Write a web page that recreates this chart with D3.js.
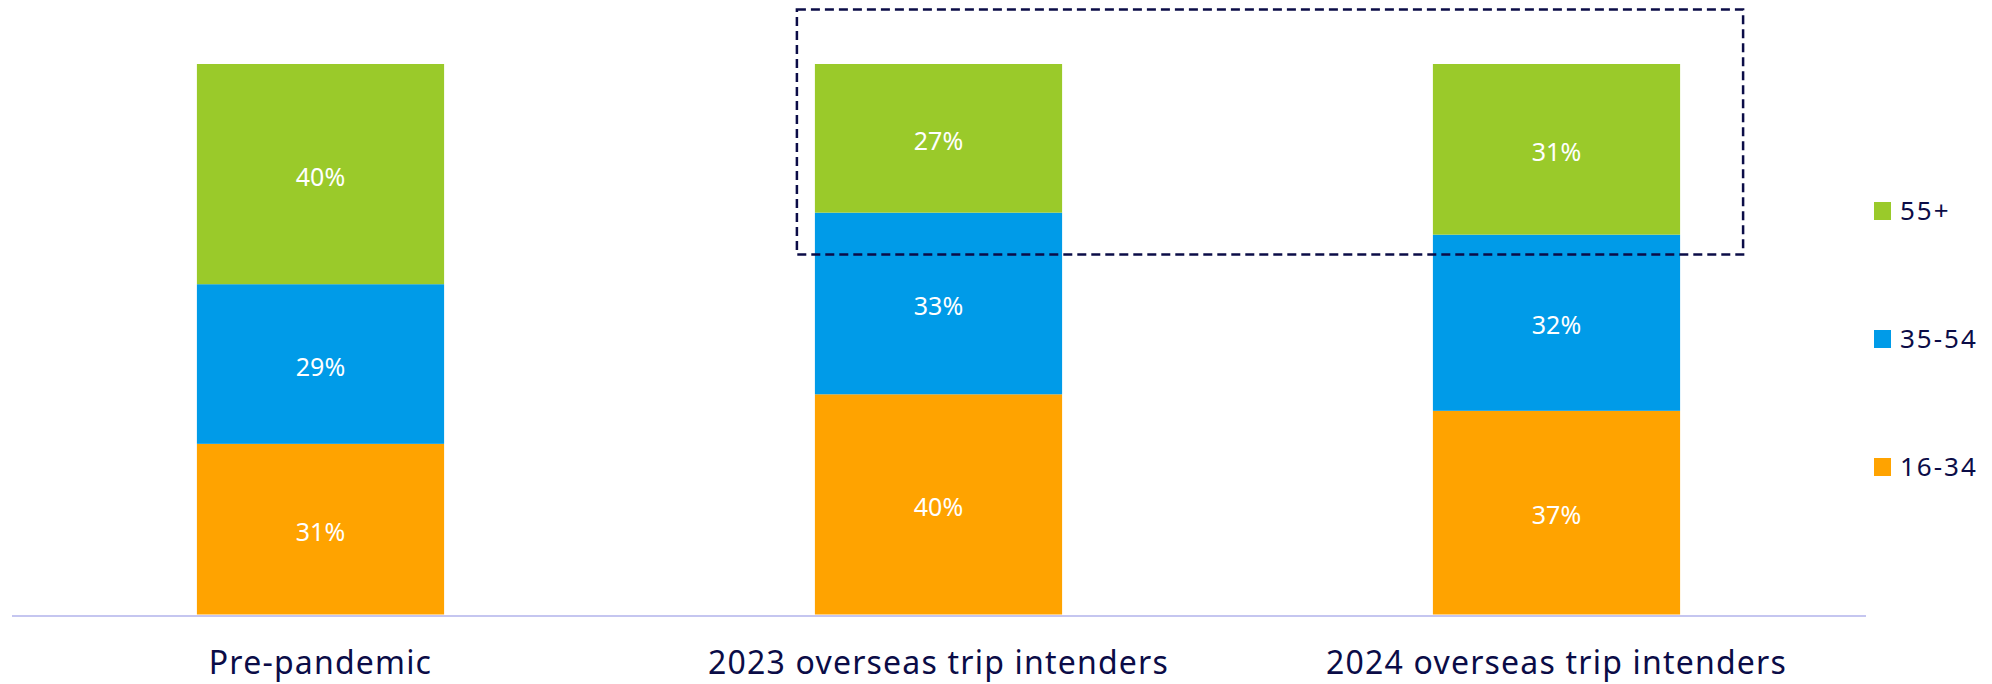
<!DOCTYPE html>
<html>
<head>
<meta charset="utf-8">
<script src="https://cdn.jsdelivr.net/npm/d3@7"></script>
<style>
  body { margin: 0; background: #fff; }
  svg { display: block; font-family: "Noto Sans", sans-serif; }
</style>
</head>
<body>
<svg id="chart"></svg>
<script>
// categories along the x axis
const categories = ["Pre-pandemic", "2023 overseas trip intenders", "2024 overseas trip intenders"];
// age groups, bottom to top
const ageGroups = ["16-34", "35-54", "55+"];
// share of each age group (%) per category
const share1634 = [31, 40, 37];
const share3554 = [29, 33, 32];
const share55 = [40, 27, 31];
// legend order, top to bottom
const legendOrder = ["55+", "35-54", "16-34"];

const colors = { "16-34": "#ffa300", "35-54": "#009be8", "55+": "#9aca2a" };
const navy = "#0b0c47";

const width = 1992, height = 684;
const svg = d3.select("#chart").attr("width", width).attr("height", height);

// build rows for d3.stack
const rows = categories.map((c, i) => ({
  category: c,
  "16-34": share1634[i],
  "35-54": share3554[i],
  "55+": share55[i]
}));
const series = d3.stack().keys(ageGroups)(rows);

const x = d3.scaleBand()
  .domain(categories)
  .range([11.5, 1865.5])
  .paddingInner(0.6)
  .paddingOuter(0.3);

const y = d3.scaleLinear()
  .domain([0, 100])
  .range([614.5, 64]);

// bars
const layer = svg.append("g").selectAll("g")
  .data(series)
  .join("g")
  .attr("fill", d => colors[d.key]);

layer.selectAll("rect")
  .data(d => d)
  .join("rect")
  .attr("x", d => x(d.data.category))
  .attr("y", d => y(d[1]))
  .attr("width", x.bandwidth())
  .attr("height", d => y(d[0]) - y(d[1]));

// value labels
layer.selectAll("text")
  .data(d => d.map(v => ({ v, key: d.key })))
  .join("text")
  .attr("x", d => x(d.v.data.category) + x.bandwidth() / 2)
  .attr("y", d => (y(d.v[0]) + y(d.v[1])) / 2)
  .attr("dy", "0.46em")
  .attr("text-anchor", "middle")
  .attr("fill", "#fff")
  .attr("font-size", 25)
  .text(d => (d.v[1] - d.v[0]) + "%");

// x axis: baseline and category labels
const xAxis = d3.axisBottom(x).tickSize(0).tickPadding(0);
const axisG = svg.append("g")
  .attr("transform", `translate(0,${y(0) + 1})`)
  .call(xAxis);
axisG.select(".domain")
  .attr("stroke", "#c5c6f0")
  .attr("stroke-width", 2);
axisG.selectAll(".tick text")
  .attr("y", 58)
  .attr("dy", 0)
  .attr("fill", navy)
  .attr("font-size", 32)
  .attr("letter-spacing", 1.2)
  .attr("font-family", "Noto Sans, sans-serif");

// dashed highlight round the 55+ segments of the intender bars
const boxLeft = x(categories[1]) - 18;
const boxRight = x(categories[2]) + x.bandwidth() + 63;
svg.append("rect")
  .attr("x", boxLeft)
  .attr("y", 9.5)
  .attr("width", boxRight - boxLeft)
  .attr("height", 245)
  .attr("fill", "none")
  .attr("stroke", navy)
  .attr("stroke-width", 2.5)
  .attr("stroke-dasharray", "9,5");

// legend
const legendY = d3.scalePoint()
  .domain(legendOrder)
  .range([211, 467]);

const legend = svg.append("g").selectAll("g")
  .data(legendOrder)
  .join("g")
  .attr("transform", d => `translate(1874,${legendY(d)})`);

legend.append("rect")
  .attr("x", 0)
  .attr("y", -9)
  .attr("width", 17)
  .attr("height", 18)
  .attr("fill", d => colors[d]);

legend.append("text")
  .attr("x", 26)
  .attr("y", 0)
  .attr("dy", "0.35em")
  .attr("fill", navy)
  .attr("font-size", 26)
  .attr("letter-spacing", 2)
  .text(d => d);
</script>
</body>
</html>
